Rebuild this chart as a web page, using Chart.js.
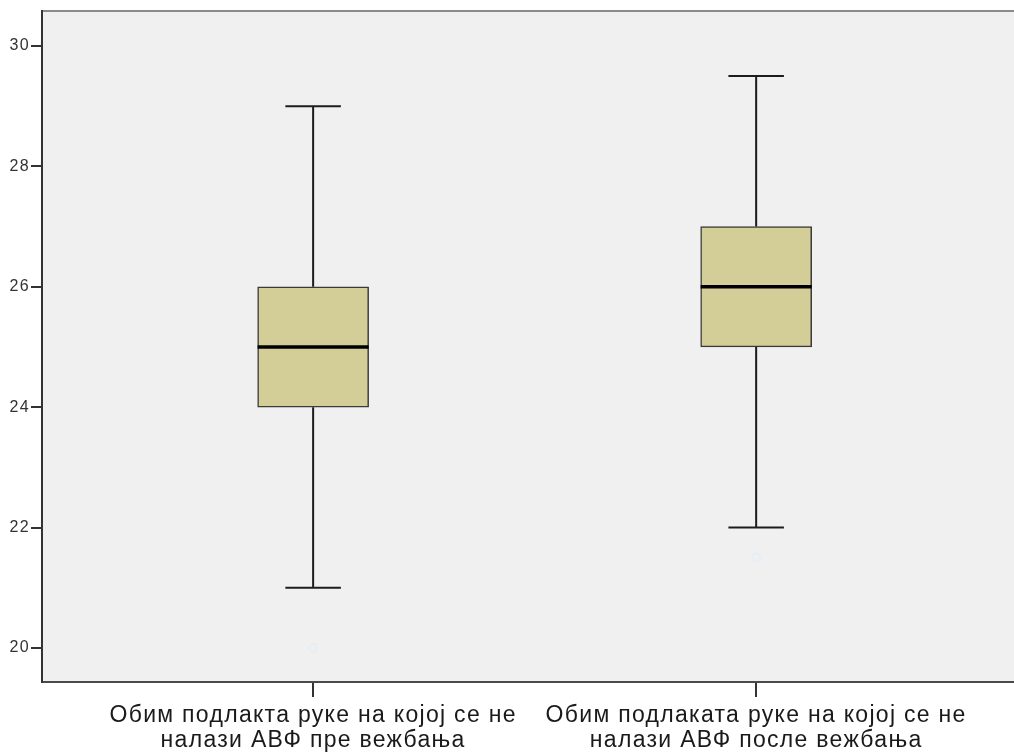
<!DOCTYPE html>
<html>
<head>
<meta charset="utf-8">
<script src="https://cdn.jsdelivr.net/npm/chart.js@4.4.1/dist/chart.umd.min.js"></script>
<style>
  html, body { margin: 0; padding: 0; background: #ffffff; overflow: hidden; }
  #wrap { width: 1014px; height: 753px; }
  #chart { display: block; }
</style>
</head>
<body>
<div id="wrap"><canvas id="chart" width="1014" height="753"></canvas></div>
<script>
// Forearm circumference (cm), arm without AV fistula, before / after exercise
const groupLabels = [
  ['Обим подлакта руке на којој се не', 'налази АВФ пре вежбања'],
  ['Обим подлаката руке на којој се не', 'налази АВФ после вежбања']
];
const groupPositions = [1, 2];
const whiskerLow = [21, 22];
const quartile1 = [24, 25];
const medians = [25, 26];
const quartile3 = [26, 27];
const whiskerHigh = [29, 29.5];
const outlierGroups = [1, 2];
const outlierValues = [20, 21.5];
const yTicks = [20, 22, 24, 26, 28, 30];

const boxFill = '#D3CE97';
const inkDark = '#1c1c1c';

// Plot area background, top frame line and the wide text spacing
const frame = {
  id: 'frame',
  beforeDraw(chart) {
    const { ctx, chartArea: a } = chart;
    ctx.letterSpacing = '1.3px';
    ctx.save();
    ctx.fillStyle = '#F0F0F0';
    ctx.fillRect(a.left, a.top, a.right - a.left, a.bottom - a.top);
    ctx.strokeStyle = '#8a8a8a';
    ctx.lineWidth = 2;
    ctx.beginPath();
    ctx.moveTo(a.left, a.top);
    ctx.lineTo(a.right, a.top);
    ctx.stroke();
    ctx.restore();
  },
  afterDraw(chart) {
    chart.ctx.letterSpacing = '0px';
  }
};

// Whiskers, caps and medians, placed with the chart's scales
const boxParts = {
  id: 'boxParts',
  afterDatasetsDraw(chart) {
    const { ctx } = chart;
    const yS = chart.scales.y;
    const meta = chart.getDatasetMeta(0);
    ctx.save();
    meta.data.forEach((bar, i) => {
      const cx = bar.x;
      const half = bar.width / 2;
      const capHalf = half / 2;
      const yLo = yS.getPixelForValue(whiskerLow[i]);
      const yQ1 = yS.getPixelForValue(quartile1[i]);
      const yQ3 = yS.getPixelForValue(quartile3[i]);
      const yHi = yS.getPixelForValue(whiskerHigh[i]);
      const yMed = yS.getPixelForValue(medians[i]);
      ctx.strokeStyle = inkDark;
      ctx.lineWidth = 2;
      ctx.beginPath();
      ctx.moveTo(cx, yQ3); ctx.lineTo(cx, yHi);
      ctx.moveTo(cx, yQ1); ctx.lineTo(cx, yLo);
      ctx.moveTo(cx - capHalf, yHi); ctx.lineTo(cx + capHalf, yHi);
      ctx.moveTo(cx - capHalf, yLo); ctx.lineTo(cx + capHalf, yLo);
      ctx.stroke();
      ctx.strokeStyle = '#000000';
      ctx.lineWidth = 3.5;
      ctx.beginPath();
      ctx.moveTo(cx - half, yMed); ctx.lineTo(cx + half, yMed);
      ctx.stroke();
    });
    ctx.restore();
  }
};

new Chart(document.getElementById('chart'), {
  data: {
    datasets: [
      {
        type: 'bar',
        data: groupPositions.map((x, i) => ({ x, y: [quartile1[i], quartile3[i]] })),
        backgroundColor: boxFill,
        borderColor: '#3a3a3a',
        borderWidth: 1.5,
        borderSkipped: false,
        barThickness: 111,
        order: 2
      },
      {
        type: 'scatter',
        data: outlierGroups.map((x, i) => ({ x, y: outlierValues[i] })),
        pointStyle: 'circle',
        pointRadius: 4,
        borderWidth: 1.5,
        borderColor: '#E2EDF8',
        backgroundColor: 'rgba(0,0,0,0)',
        order: 1
      }
    ]
  },
  options: {
    responsive: false,
    animation: false,
    devicePixelRatio: 1,
    layout: { autoPadding: false, padding: { top: 11, right: 0, bottom: 0, left: 0 } },
    plugins: { legend: { display: false }, tooltip: { enabled: false } },
    scales: {
      x: {
        type: 'linear',
        offset: false,
        min: 0.388,
        max: 2.582,
        afterBuildTicks(s) { s.ticks = groupPositions.map(v => ({ value: v })); },
        afterFit(s) { s.height = 71; s.paddingLeft = 0; s.paddingRight = 0; },
        ticks: {
          autoSkip: false,
          maxRotation: 0,
          padding: 6,
          color: '#1a1a1a',
          font: { family: '"Liberation Sans", Arial, sans-serif', size: 23, lineHeight: 1.09 },
          callback(v) {
            const i = groupPositions.indexOf(v);
            return i >= 0 ? groupLabels[i] : '';
          }
        },
        grid: { offset: false, drawOnChartArea: false, tickLength: 15, color: '#333333', lineWidth: 2 },
        border: { display: true, color: '#4a4a4a', width: 2 }
      },
      y: {
        type: 'linear',
        min: 19.435,
        max: 30.58,
        afterBuildTicks(s) { s.ticks = yTicks.map(v => ({ value: v })); },
        afterFit(s) { s.width = 42; s.paddingTop = 0; s.paddingBottom = 0; },
        ticks: {
          padding: 1,
          color: '#333333',
          font: { family: '"Liberation Sans", Arial, sans-serif', size: 16 }
        },
        grid: { drawOnChartArea: false, tickLength: 11, color: '#333333', lineWidth: 2 },
        border: { display: true, color: '#333333', width: 2 }
      }
    }
  },
  plugins: [frame, boxParts]
});
</script>
</body>
</html>
